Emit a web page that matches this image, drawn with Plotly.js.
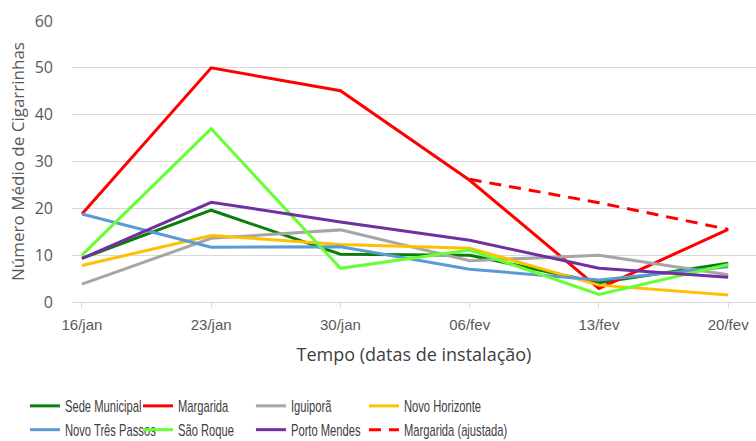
<!DOCTYPE html>
<html>
<head>
<meta charset="utf-8">
<script src="https://cdn.plot.ly/plotly-3.0.1.min.js"></script>
<style>
html,body{margin:0;padding:0;background:#fff}
#chart{width:756px;height:441px}
#chart .legendtext{transform-box:fill-box;transform-origin:left center;transform:scaleX(0.7)}
</style>
</head>
<body>
<div id="chart"></div>
<script>
// Categories (installation dates)
const dates = ['16/jan', '23/jan', '30/jan', '06/fev', '13/fev', '20/fev'];

// Series values (mean number of leafhoppers)
const sedeMunicipal   = [9.3, 19.6, 10.2, 10.0, 4.1, 8.3];
const margarida       = [18.8, 50.0, 45.1, 26.0, 2.9, 15.5];
const iguipora        = [3.8, 13.6, 15.4, 8.8, 10.0, 5.8];
const novoHorizonte   = [7.8, 14.2, 12.3, 11.5, 3.6, 1.5];
const novoTresPassos  = [18.8, 11.7, 11.8, 7.0, 4.7, 7.5];
const saoRoque        = [10.0, 37.0, 7.2, 11.1, 1.6, 8.0];
const portoMendes     = [9.3, 21.3, 17.1, 13.2, 7.2, 5.3];
const margaridaAjust  = [null, null, null, 26.2, 21.2, 15.5];

const seriesNames = ['Sede Municipal', 'Margarida', 'Iguiporã', 'Novo Horizonte',
                     'Novo Três Passos', 'São Roque', 'Porto Mendes', 'Margarida (ajustada)'];
const seriesData = [sedeMunicipal, margarida, iguipora, novoHorizonte,
                    novoTresPassos, saoRoque, portoMendes, margaridaAjust];
const seriesColors = ['#0a7d0a', '#ff0000', '#a6a6a6', '#ffc000',
                      '#5b9bd5', '#66ff33', '#7030a0', '#ff0000'];
// legend column of each series (4 columns x 2 rows, as in the reference)
const legendColumns = ['c1', 'c2', 'c3', 'c4', 'c1', 'c2', 'c3', 'c4'];

const traces = seriesData.map((vals, i) => ({
  type: 'scatter',
  mode: 'lines',
  x: dates,
  y: vals,
  name: seriesNames[i],
  legendgroup: legendColumns[i],
  legendwidth: i === 7 ? 110 : 68,
  connectgaps: false,
  line: {
    color: seriesColors[i],
    width: 3,
    dash: i === 7 ? '12px,8px' : 'solid'
  },
  hoverinfo: 'x+y+name'
}));

const sans = 'Liberation Sans, Arial, sans-serif';

const layout = {
  width: 756,
  height: 441,
  margin: {l: 72, r: 0, t: 21, b: 139},
  paper_bgcolor: '#ffffff',
  plot_bgcolor: '#ffffff',
  showlegend: true,
  font: {family: sans, size: 15, color: '#595959'},
  xaxis: {
    type: 'category',
    range: [-0.077, 5.215],
    showgrid: false,
    zeroline: false,
    showline: true,
    linecolor: '#d9d9d9',
    linewidth: 1,
    ticks: 'outside',
    ticklen: 5,
    tickcolor: '#d9d9d9',
    ticklabelstandoff: 4,
    tickfont: {family: sans, size: 15, color: '#595959'},
    title: {text: 'Tempo (datas de instalação)', font: {family: 'Open Sans, sans-serif', size: 18, color: '#404040'}, standoff: 16}
  },
  yaxis: {
    range: [0, 60],
    dtick: 10,
    showgrid: true,
    gridcolor: '#d9d9d9',
    gridwidth: 1,
    zeroline: false,
    showline: false,
    ticks: '',
    ticklabelstandoff: 18,
    tickfont: {family: 'Open Sans, sans-serif', size: 16, color: '#595959'},
    title: {text: 'Número Médio de Cigarrinhas', font: {family: 'Open Sans, sans-serif', size: 17, color: '#595959'}, standoff: 5}
  },
  legend: {
    orientation: 'h',
    xref: 'container',
    yref: 'container',
    x: 0.033,
    y: 0.118,
    xanchor: 'left',
    yanchor: 'top',
    traceorder: 'grouped',
    tracegroupgap: 0,
    entrywidthmode: 'pixels',
    itemwidth: 30,
    font: {family: sans, size: 16, color: '#404040'},
    bgcolor: 'rgba(0,0,0,0)'
  }
};

Plotly.newPlot('chart', traces, layout, {displayModeBar: false, staticPlot: true});
</script>
</body>
</html>
